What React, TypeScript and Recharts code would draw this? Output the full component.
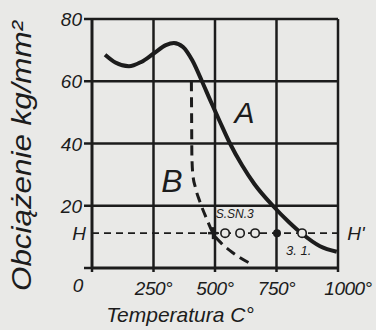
import React from 'react';
import {
  ComposedChart,
  Line,
  XAxis,
  YAxis,
  ReferenceLine,
} from 'recharts';

const xTicks = [0, 250, 500, 750, 1000];
const xTickLabels = ['0', '250°', '500°', '750°', '1000°'];
const yTicks = [0, 20, 40, 60, 80];
const yTickLabels = ['', '20', '40', '60', '80'];
const hLevel = 11.2;

// Grid segments
const gridV250 = [{ x: 250, y: 0 }, { x: 250, y: 80 }];
const gridV500 = [{ x: 500, y: 0 }, { x: 500, y: 80 }];
const gridV750 = [{ x: 750, y: 0 }, { x: 750, y: 80 }];
const gridV1000 = [{ x: 1000, y: 0 }, { x: 1000, y: 80 }];
const gridH20 = [{ x: 0, y: 20 }, { x: 1000, y: 20 }];
const gridH40 = [{ x: 0, y: 40 }, { x: 1000, y: 40 }];
const gridH60 = [{ x: 0, y: 60 }, { x: 1000, y: 60 }];
const gridH80 = [{ x: 0, y: 80 }, { x: 1000, y: 80 }];

// Curve A (solid)
const curveA = [
  { x: 53, y: 68.5 },
  { x: 95, y: 66 },
  { x: 150, y: 64.8 },
  { x: 200, y: 66.2 },
  { x: 252, y: 69 },
  { x: 300, y: 71.6 },
  { x: 333, y: 72.3 },
  { x: 370, y: 71 },
  { x: 407, y: 66.8 },
  { x: 447, y: 60 },
  { x: 480, y: 54 },
  { x: 520, y: 47 },
  { x: 561, y: 40 },
  { x: 610, y: 33 },
  { x: 660, y: 27 },
  { x: 735, y: 20 },
  { x: 800, y: 14.8 },
  { x: 854, y: 11 },
  { x: 927, y: 7 },
  { x: 995, y: 5.2 },
];

// Curve B (dashed)
const curveB = [
  { x: 404, y: 60 },
  { x: 405, y: 48 },
  { x: 406, y: 36 },
  { x: 410, y: 30 },
  { x: 420, y: 26 },
  { x: 440, y: 21 },
  { x: 465, y: 16 },
  { x: 492, y: 11.2 },
  { x: 525, y: 8 },
  { x: 561, y: 5.6 },
  { x: 600, y: 3.4 },
  { x: 645, y: 1.4 },
];

// Points on the H line
const hPointTemps = [541, 602, 663, 752, 854];
const hPointFilled = [false, false, false, true, false];
const hPoints = hPointTemps.map((t, i) => ({ x: t, y: hLevel, filled: hPointFilled[i] }));

const crossPoint = [{ x: 492, y: hLevel }];

// Text annotations in the plot
const annotations = [
  { x: 620, y: 50, text: 'A', size: 30 },
  { x: 325, y: 28, text: 'B', size: 32 },
  { x: 580, y: 17.5, text: 'S.SN.3', size: 12 },
  { x: 840, y: 5.5, text: '3.   1.', size: 13 },
];

const FONT = '"Liberation Sans", "DejaVu Sans", sans-serif';
const INK = '#1c1c1c';
const BG = '#e9e9e7';
const GRID_W = 2.5;

const XTick = (props: any) => {
  const { x, y, payload } = props;
  const i = xTicks.indexOf(payload.value);
  const label = xTickLabels[i];
  if (payload.value === 0) {
    return (
      <text x={x - 14} y={y + 18} textAnchor="middle" fontFamily={FONT} fontStyle="italic" fontSize={19} fill={INK}>
        {label}
      </text>
    );
  }
  const dx = payload.value === 1000 ? 10 : 0;
  return (
    <text x={x + dx} y={y + 21} textAnchor="middle" fontFamily={FONT} fontStyle="italic" fontSize={19} fill={INK} letterSpacing={-0.5}>
      {label}
    </text>
  );
};

const YTick = (props: any) => {
  const { x, y, payload } = props;
  const i = yTicks.indexOf(payload.value);
  const label = yTickLabels[i];
  if (!label) return null;
  return (
    <text x={x} y={y + 7} textAnchor="end" fontFamily={FONT} fontStyle="italic" fontSize={19} fill={INK}>
      {label}
    </text>
  );
};

const HDot = (props: any) => {
  const { cx, cy, payload } = props;
  if (cx == null || cy == null) return null;
  return (
    <circle
      key={`h-${payload.x}`}
      cx={cx}
      cy={cy}
      r={payload.filled ? 3.2 : 4.2}
      fill={payload.filled ? INK : BG}
      stroke={INK}
      strokeWidth={1.6}
    />
  );
};

const CrossDot = (props: any) => {
  const { cx, cy } = props;
  if (cx == null || cy == null) return null;
  return (
    <g key="cross">
      <line x1={cx - 5} y1={cy} x2={cx + 5} y2={cy} stroke={INK} strokeWidth={2.5} />
      <line x1={cx} y1={cy - 6} x2={cx} y2={cy + 6} stroke={INK} strokeWidth={2.5} />
    </g>
  );
};

const TextDot = (props: any) => {
  const { cx, cy, payload } = props;
  if (cx == null || cy == null) return null;
  return (
    <text
      key={`t-${payload.text}`}
      x={cx}
      y={cy}
      textAnchor="middle"
      dominantBaseline="central"
      fontFamily={FONT}
      fontStyle="italic"
      fontSize={payload.size}
      fill={INK}
    >
      {payload.text}
    </text>
  );
};

const gridLine = (data: any[], w: number) => (
  <Line
    data={data}
    dataKey="y"
    type="linear"
    stroke={INK}
    strokeWidth={w}
    dot={false}
    isAnimationActive={false}
  />
);

export default function App() {
  return (
    <div style={{ position: 'absolute', left: 0, top: 0, width: 376, height: 330, background: BG }}>
      <ComposedChart width={376} height={330} margin={{ top: 19, right: 38, bottom: 32, left: 52 }}>
        <XAxis
          type="number"
          dataKey="x"
          domain={[0, 1000]}
          ticks={xTicks}
          height={30}
          axisLine={{ stroke: INK, strokeWidth: 3 }}
          tickLine={{ stroke: INK, strokeWidth: 2.5 }}
          tickSize={4}
          tick={<XTick />}
          interval={0}
          label={{
            content: () => (
              <text x={180} y={322} textAnchor="middle" fontFamily={FONT} fontStyle="italic" fontSize={21} fill={INK}>
                Temperatura C°
              </text>
            ),
          }}
        />
        <YAxis
          type="number"
          domain={[0, 80]}
          ticks={yTicks}
          width={40}
          axisLine={{ stroke: INK, strokeWidth: 3 }}
          tickLine={{ stroke: INK, strokeWidth: 2.5 }}
          tickSize={8}
          tick={<YTick />}
          interval={0}
          label={{
            content: () => (
              <text
                transform="translate(31 156) rotate(-90)"
                textAnchor="middle"
                fontFamily={FONT}
                fontStyle="italic"
                fontSize={28}
                fill={INK}
                textLength={270}
                lengthAdjust="spacingAndGlyphs"
              >
                Obciążenie kg/mm²
              </text>
            ),
          }}
        />
        {gridLine(gridV250, GRID_W)}
        {gridLine(gridV500, GRID_W)}
        {gridLine(gridV750, GRID_W)}
        {gridLine(gridV1000, GRID_W)}
        {gridLine(gridH20, GRID_W)}
        {gridLine(gridH40, GRID_W)}
        {gridLine(gridH60, GRID_W)}
        {gridLine(gridH80, GRID_W)}
        <ReferenceLine
          y={hLevel}
          stroke={INK}
          strokeWidth={1.6}
          strokeDasharray="7 5"
          label={{
            content: (p: any) => (
              <g>
                <text x={p.viewBox.x - 13} y={p.viewBox.y + 7} textAnchor="middle" fontFamily={FONT} fontStyle="italic" fontSize={19} fill={INK}>
                  H
                </text>
                <text x={p.viewBox.x + p.viewBox.width + 18} y={p.viewBox.y + 7} textAnchor="middle" fontFamily={FONT} fontStyle="italic" fontSize={19} fill={INK}>
                  H'
                </text>
              </g>
            ),
          }}
        />
        <Line
          data={curveA}
          dataKey="y"
          type="monotone"
          stroke={INK}
          strokeWidth={4}
          dot={false}
          isAnimationActive={false}
        />
        <Line
          data={curveB}
          dataKey="y"
          type="monotone"
          stroke={INK}
          strokeWidth={3}
          strokeDasharray="10 6"
          dot={false}
          isAnimationActive={false}
        />
        <Line
          data={hPoints}
          dataKey="y"
          stroke="none"
          dot={<HDot />}
          isAnimationActive={false}
        />
        <Line
          data={crossPoint}
          dataKey="y"
          stroke="none"
          dot={<CrossDot />}
          isAnimationActive={false}
        />
        <Line
          data={annotations}
          dataKey="y"
          stroke="none"
          dot={<TextDot />}
          isAnimationActive={false}
        />
      </ComposedChart>
    </div>
  );
}
